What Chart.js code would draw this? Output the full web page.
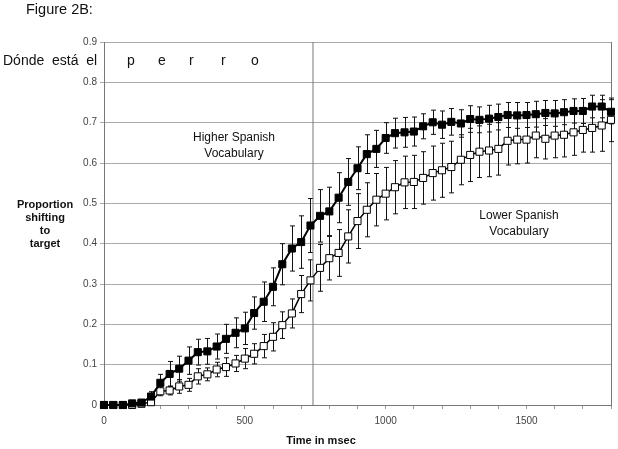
<!DOCTYPE html>
<html lang="es">
<head>
    <meta charset="UTF-8">
    <title>Figure 2B</title>
    <script src="https://cdn.jsdelivr.net/npm/chart.js@4.4.0/dist/chart.umd.min.js"></script>
    <style>
        * {
            margin: 0;
            padding: 0;
            box-sizing: border-box;
        }

        body {
            background: #fff;
            width: 618px;
            height: 449px;
            overflow: hidden;
            font-family: Arial, 'Liberation Sans', sans-serif;
        }

        .wrap {
            position: relative;
            width: 618px;
            height: 449px;
        }

        canvas {
            position: absolute;
            left: 0;
            top: 0;
        }

        .txt {
            position: absolute;
            color: #111;
            white-space: nowrap;
        }

        .fig { left: 26px; top: 1px; font-size: 14.5px; }
        .phrase { left: 3px; top: 52px; font-size: 14px; }
        .let { top: 52px; font-size: 14px; }
        .ytitle { left: 10px; top: 198px; width: 70px; text-align: center; font-size: 11px; font-weight: bold; line-height: 13px; }
        .xtitle { left: 261px; top: 434px; width: 120px; text-align: center; font-size: 11px; font-weight: bold; }
        .note { text-align: center; font-size: 12px; line-height: 16px; width: 140px; }
    </style>
</head>
<body>
<div class="wrap">
    <canvas id="chart" width="618" height="449"></canvas>

    <div class="txt fig">Figure 2B:</div>
    <div class="txt phrase">Dónde&nbsp; está&nbsp; el</div>
    <div class="txt let" style="left:127px">p</div>
    <div class="txt let" style="left:158px">e</div>
    <div class="txt let" style="left:189px">r</div>
    <div class="txt let" style="left:221px">r</div>
    <div class="txt let" style="left:251px">o</div>

    <div class="txt ytitle">Proportion<br>shifting<br>to<br>target</div>
    <div class="txt xtitle">Time in msec</div>

    <div class="txt note" style="left:164px; top:129px">Higher Spanish<br>Vocabulary</div>
    <div class="txt note" style="left:449px; top:207px">Lower Spanish<br>Vocabulary</div>
</div>

<script>
    // time bins (msec)
    const times = [0, 33, 67, 100, 133, 167, 200, 233, 267, 300, 333, 367, 400, 433, 467,
        500, 533, 567, 600, 633, 667, 700, 733, 767, 800, 833, 867, 900, 933, 967,
        1000, 1033, 1067, 1100, 1133, 1167, 1200, 1233, 1267, 1300, 1333, 1367, 1400, 1433, 1467,
        1500, 1533, 1567, 1600, 1633, 1667, 1700, 1733, 1767, 1800];

    // Higher Spanish Vocabulary (filled squares)
    const higher = [0, 0, 0, 0.004, 0.006, 0.021, 0.055, 0.077, 0.09, 0.11, 0.131, 0.133, 0.145, 0.164, 0.179,
        0.19, 0.228, 0.256, 0.293, 0.349, 0.388, 0.404, 0.445, 0.469, 0.48, 0.514, 0.553, 0.587, 0.622, 0.635,
        0.662, 0.674, 0.676, 0.678, 0.691, 0.701, 0.695, 0.702, 0.698, 0.709, 0.707, 0.71, 0.714, 0.719, 0.718,
        0.719, 0.721, 0.724, 0.723, 0.726, 0.729, 0.729, 0.74, 0.74, 0.727];
    const higherErr = [0, 0, 0, 0.003, 0.004, 0.012, 0.021, 0.031, 0.031, 0.034, 0.032, 0.032, 0.031, 0.036, 0.037,
        0.04, 0.04, 0.049, 0.047, 0.051, 0.056, 0.065, 0.067, 0.065, 0.06, 0.062, 0.058, 0.053, 0.048, 0.046,
        0.038, 0.037, 0.037, 0.036, 0.031, 0.03, 0.034, 0.033, 0.034, 0.033, 0.032, 0.033, 0.032, 0.031, 0.032,
        0.031, 0.032, 0.031, 0.032, 0.031, 0.03, 0.031, 0.028, 0.028, 0.03];

    // Lower Spanish Vocabulary (open squares)
    const lower = [0, 0, 0, 0, 0.003, 0.007, 0.034, 0.036, 0.046, 0.05, 0.071, 0.076, 0.088, 0.094, 0.103,
        0.115, 0.127, 0.146, 0.169, 0.198, 0.227, 0.275, 0.309, 0.34, 0.364, 0.377, 0.418, 0.456, 0.484, 0.509,
        0.524, 0.54, 0.552, 0.553, 0.563, 0.575, 0.582, 0.59, 0.608, 0.62, 0.628, 0.631, 0.635, 0.655, 0.658,
        0.658, 0.668, 0.66, 0.668, 0.67, 0.676, 0.682, 0.687, 0.693, 0.707];
    const lowerErr = [0, 0, 0, 0.002, 0.003, 0.006, 0.011, 0.011, 0.017, 0.016, 0.019, 0.016, 0.018, 0.023, 0.02,
        0.025, 0.025, 0.029, 0.035, 0.033, 0.036, 0.046, 0.051, 0.058, 0.054, 0.058, 0.066, 0.068, 0.067, 0.065,
        0.065, 0.066, 0.065, 0.066, 0.065, 0.067, 0.067, 0.064, 0.062, 0.066, 0.064, 0.065, 0.065, 0.06, 0.06,
        0.058, 0.055, 0.05, 0.055, 0.055, 0.057, 0.055, 0.06, 0.064, 0.054];

    // target word onset marker
    const onsetTime = 742;

    const xTickLabels = [0, 500, 1000, 1500];

    function toPoints(ys) {
        return times.map((t, i) => ({ x: t, y: ys[i] }));
    }

    // error bars, drawn under the markers
    const errorBars = {
        id: 'errorBars',
        beforeDatasetsDraw(chart) {
            const ctx = chart.ctx;
            const xs = chart.scales.x;
            const ys = chart.scales.y;
            const sets = [[higher, higherErr], [lower, lowerErr]];
            ctx.save();
            ctx.strokeStyle = '#111';
            ctx.lineWidth = 1;
            sets.forEach(([vals, errs]) => {
                vals.forEach((v, i) => {
                    if (!errs[i]) return;
                    const px = Math.round(xs.getPixelForValue(times[i])) + 0.5;
                    const top = ys.getPixelForValue(v + errs[i]);
                    const bot = ys.getPixelForValue(v - errs[i]);
                    ctx.beginPath();
                    ctx.moveTo(px, top);
                    ctx.lineTo(px, bot);
                    ctx.moveTo(px - 2.5, top);
                    ctx.lineTo(px + 2.5, top);
                    ctx.moveTo(px - 2.5, bot);
                    ctx.lineTo(px + 2.5, bot);
                    ctx.stroke();
                });
            });
            ctx.restore();
        }
    };

    // plot frame (right edge)
    const frame = {
        id: 'frame',
        beforeDatasetsDraw(chart) {
            const a = chart.chartArea;
            const ctx = chart.ctx;
            ctx.save();
            ctx.strokeStyle = '#777';
            ctx.lineWidth = 1;
            ctx.beginPath();
            ctx.moveTo(Math.round(a.right) + 0.5, a.top);
            ctx.lineTo(Math.round(a.right) + 0.5, a.bottom);
            ctx.stroke();
            ctx.restore();
        }
    };

    new Chart(document.getElementById('chart'), {
        type: 'line',
        data: {
            datasets: [
                {
                    label: 'Higher Spanish Vocabulary',
                    data: toPoints(higher),
                    borderColor: '#000',
                    borderWidth: 2,
                    pointStyle: 'rect',
                    pointRadius: 5,
                    pointBackgroundColor: '#000',
                    pointBorderColor: '#000',
                    pointBorderWidth: 1,
                    tension: 0,
                    clip: false,
                    order: 0
                },
                {
                    label: 'Lower Spanish Vocabulary',
                    data: toPoints(lower),
                    borderColor: '#000',
                    borderWidth: 1.5,
                    pointStyle: 'rect',
                    pointRadius: 5,
                    pointBackgroundColor: '#fff',
                    pointBorderColor: '#000',
                    pointBorderWidth: 1,
                    tension: 0,
                    clip: false,
                    order: 1
                },
                {
                    label: 'onset',
                    data: [{ x: onsetTime, y: 0 }, { x: onsetTime, y: 0.9 }],
                    borderColor: '#777',
                    borderWidth: 1,
                    pointRadius: 0,
                    order: 2
                }
            ]
        },
        options: {
            responsive: false,
            animation: false,
            layout: { padding: { left: 0, top: 42, right: 7, bottom: 0 } },
            plugins: {
                legend: { display: false },
                tooltip: { enabled: false }
            },
            scales: {
                x: {
                    type: 'linear',
                    min: 0,
                    max: 1800,
                    afterFit: s => { s.height = 44; },
                    ticks: {
                        stepSize: 100,
                        autoSkip: false,
                        maxRotation: 0,
                        padding: 6,
                        color: '#444',
                        font: { family: 'Arial, Liberation Sans', size: 10 },
                        callback: v => xTickLabels.includes(v) ? String(v) : ''
                    },
                    grid: {
                        drawOnChartArea: false,
                        tickLength: 4,
                        color: '#999'
                    },
                    border: { color: '#777' }
                },
                y: {
                    min: 0,
                    max: 0.9,
                    afterFit: s => { s.width = 104; },
                    ticks: {
                        stepSize: 0.1,
                        padding: 3,
                        color: '#444',
                        font: { family: 'Arial, Liberation Sans', size: 10 },
                        callback: v => v === 0 ? '0' : v.toFixed(1)
                    },
                    grid: {
                        color: '#aaa',
                        tickLength: 4
                    },
                    border: { color: '#777' }
                }
            }
        },
        plugins: [frame, errorBars]
    });
</script>
</body>
</html>
